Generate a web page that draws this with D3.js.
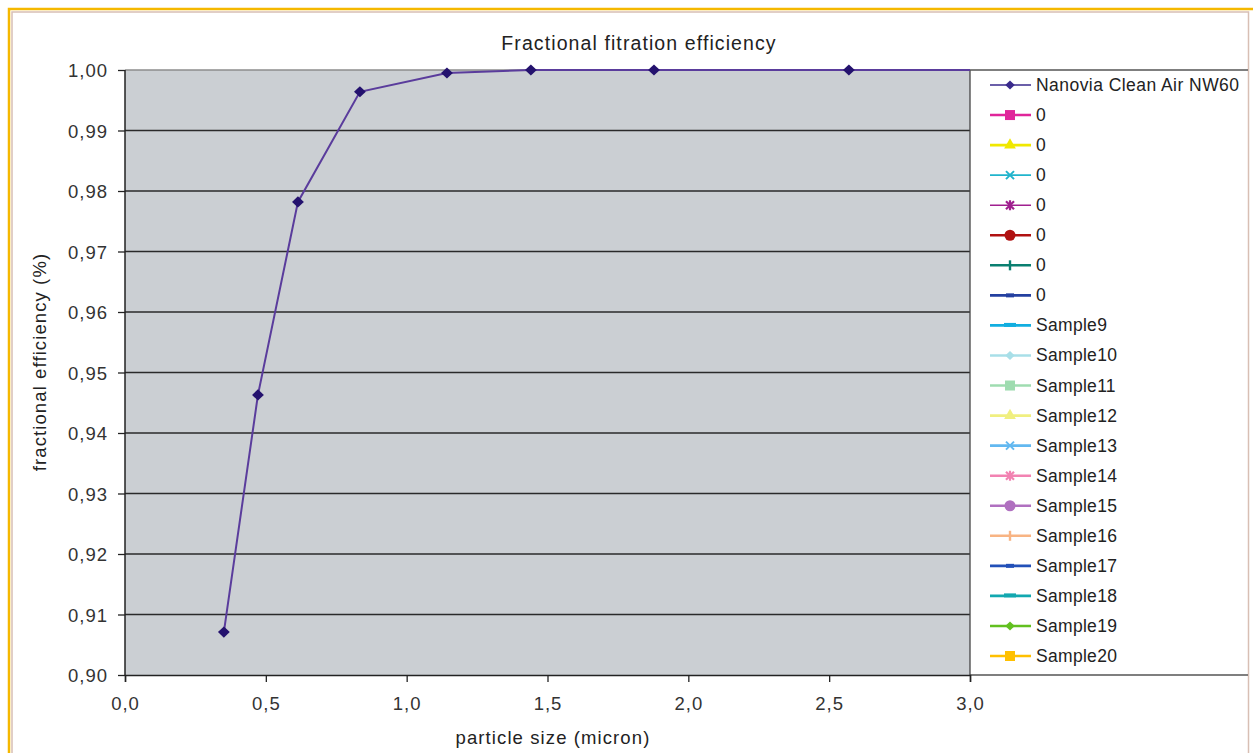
<!DOCTYPE html>
<html><head><meta charset="utf-8">
<script src="https://cdn.jsdelivr.net/npm/d3@7"></script>
<style>
html,body{margin:0;padding:0;background:#fff;}
svg{display:block;font-family:"Liberation Sans",Arial,sans-serif;}
</style></head>
<body>
<svg id="c" width="1253" height="753"></svg>
<script>
const title = "Fractional fitration efficiency";
const xLabel = "particle size (micron)";
const yLabel = "fractional efficiency (%)";
const particleSize = [0.351, 0.472, 0.614, 0.834, 1.143, 1.441, 1.878, 2.570, 3.5];
const efficiency = [0.9071, 0.9463, 0.9782, 0.9964, 0.9995, 1.0000, 1.0000, 1.0000, 1.0000];
const xTicks = [0, 0.5, 1.0, 1.5, 2.0, 2.5, 3.0];
const yTicks = [0.90, 0.91, 0.92, 0.93, 0.94, 0.95, 0.96, 0.97, 0.98, 0.99, 1.00];
const seriesNames = ["Nanovia Clean Air NW60","0","0","0","0","0","0","0","Sample9","Sample10","Sample11","Sample12","Sample13","Sample14","Sample15","Sample16","Sample17","Sample18","Sample19","Sample20"];
const seriesColors = ["#3a2a8c","#e0259a","#f0e800","#20b4cc","#a01f8f","#b01212","#0a7f70","#2440a0","#12aee0","#a8dfe8","#9fdcb0","#f0ef80","#62b8f0","#f282b2","#b070c0","#f8b483","#2250b8","#12a8b0","#62c020","#ffc000"];
const seriesMarkers = ["diamond","square","triangle","x","star","circle","plus","dash","longdash","diamond","square","triangle","x","star","circle","plus","dash","longdash","diamond","square"];

const svg = d3.select("#c");
// frame
svg.append("rect").attr("x",9).attr("y",9).attr("width",1250).attr("height",760)
  .attr("fill","none").attr("stroke","#f5b800").attr("stroke-width",2.5);
svg.append("rect").attr("x",12).attr("y",12).attr("width",1236.5).attr("height",760)
  .attr("fill","none").attr("stroke","#d8bfb4").attr("stroke-width",1.5);

const L=125,R=970,T=70,B=675;
const x = d3.scaleLinear().domain([0,3]).range([L,R]);
const y = d3.scaleLinear().domain([0.90,1.00]).range([B,T]);

svg.append("rect").attr("x",L).attr("y",T).attr("width",R-L).attr("height",B-T).attr("fill","#cbcfd3");

// gridlines
svg.append("g").selectAll("line").data(yTicks.filter(d=>d>0.9001 && d<0.9999)).join("line")
  .attr("x1",L).attr("x2",R).attr("y1",d=>y(d)).attr("y2",d=>y(d))
  .attr("stroke","#2a2a2a").attr("stroke-width",1.3);
// top border
svg.append("line").attr("x1",L).attr("x2",R).attr("y1",T).attr("y2",T).attr("stroke","#8d8d8d").attr("stroke-width",1.3);
// right border of plot / legend
svg.append("line").attr("x1",R).attr("x2",R).attr("y1",T).attr("y2",B).attr("stroke","#444").attr("stroke-width",1.3);
svg.append("line").attr("x1",R).attr("x2",R+278).attr("y1",T).attr("y2",T).attr("stroke","#555").attr("stroke-width",1.3);
svg.append("line").attr("x1",R).attr("x2",R+278).attr("y1",B).attr("y2",B).attr("stroke","#555").attr("stroke-width",1.3);

// axes
const xAxis = d3.axisBottom(x).tickValues(xTicks).tickSize(7).tickPadding(15)
  .tickFormat(d=>d3.format(".1f")(d).replace(".",","));
const gx = svg.append("g").attr("transform",`translate(0,${B})`).call(xAxis);
const yAxis = d3.axisLeft(y).tickValues(yTicks).tickSize(7).tickPadding(10)
  .tickFormat(d=>d3.format(".2f")(d).replace(".",","));
const gy = svg.append("g").attr("transform",`translate(${L},0)`).call(yAxis);
[gx,gy].forEach(g=>{
  g.select(".domain").attr("stroke","#222").attr("stroke-width",1.5);
  g.selectAll(".tick line").attr("stroke","#222").attr("stroke-width",1.3);
  g.selectAll("text").attr("font-size",18.5).attr("letter-spacing","1").attr("fill","#333").attr("font-family","Liberation Sans, Arial, sans-serif");
});
gy.selectAll("text").attr("dy","0.36em");
gy.select(".domain").attr("d",`M${-0},${B}V${T}`);

// data line
svg.append("clipPath").attr("id","clip").append("rect").attr("x",L).attr("y",T-8).attr("width",R-L).attr("height",B-T+16);
const pts = particleSize.map((d,i)=>[d,efficiency[i]]);
const dg = svg.append("g").attr("clip-path","url(#clip)");
dg.append("path").datum(pts).attr("fill","none").attr("stroke","#5a3c9c").attr("stroke-width",2)
  .attr("d",d3.line().x(d=>x(d[0])).y(d=>y(d[1])));
dg.selectAll("path.m").data(pts).join("path").attr("class","m")
  .attr("d",d3.symbol(d3.symbolDiamond2,110)).attr("fill","#24126e")
  .attr("transform",d=>`translate(${x(d[0])},${y(d[1])}) scale(0.9,0.85)`);

// title & labels
svg.append("text").attr("x",639).attr("y",50).attr("text-anchor","middle").attr("font-size",19.5).attr("letter-spacing","1.1").attr("fill","#222").text(title);
svg.append("text").attr("x",553).attr("y",744).attr("text-anchor","middle").attr("font-size",18.5).attr("letter-spacing","1.1").attr("fill","#222").text(xLabel);
svg.append("text").attr("transform","translate(46,362) rotate(-90)").attr("text-anchor","middle").attr("font-size",18.5).attr("letter-spacing","1.1").attr("fill","#222").text(yLabel);

// legend
const leg = svg.append("g");
const rowY = d3.scaleLinear().domain([0,19]).range([85,656]);
seriesNames.forEach((n,i)=>{
  const cy = rowY(i), c = seriesColors[i], g = leg.append("g").attr("transform",`translate(1010,${cy})`);
  g.append("line").attr("x1",-20).attr("x2",21).attr("y1",0).attr("y2",0).attr("stroke",c).attr("stroke-width",i==0||i==4||i==3?1.6:2.6);
  const m = seriesMarkers[i];
  if(m==="diamond") g.append("path").attr("d",d3.symbol(d3.symbolDiamond2,70)).attr("fill",c).attr("transform","scale(0.9,0.85)");
  else if(m==="square") g.append("rect").attr("x",-5).attr("y",-5).attr("width",10).attr("height",10).attr("fill",c);
  else if(m==="triangle") g.append("path").attr("d",d3.symbol(d3.symbolTriangle,60)).attr("fill",c);
  else if(m==="x") g.append("path").attr("d","M-4,-4L4,4M-4,4L4,-4").attr("stroke",c).attr("stroke-width",2);
  else if(m==="star") g.append("path").attr("d","M-4,-4L4,4M-4,4L4,-4M0,-5V5").attr("stroke",c).attr("stroke-width",2.2);
  else if(m==="circle") g.append("circle").attr("r",5.5).attr("fill",c);
  else if(m==="plus") g.append("path").attr("d","M0,-5V5").attr("stroke",c).attr("stroke-width",2.4);
  else if(m==="dash") g.append("rect").attr("x",-4).attr("y",-2).attr("width",8).attr("height",4).attr("fill",c);
  else if(m==="longdash") g.append("rect").attr("x",-6).attr("y",-2.5).attr("width",12).attr("height",4).attr("fill",c);
  leg.append("text").attr("x",1036).attr("y",cy+6).attr("font-size",17.5).attr("fill","#222")
    .attr("letter-spacing",n.startsWith("Sample")?"0.3":"0.45").text(n);
});
</script>
</body></html>
